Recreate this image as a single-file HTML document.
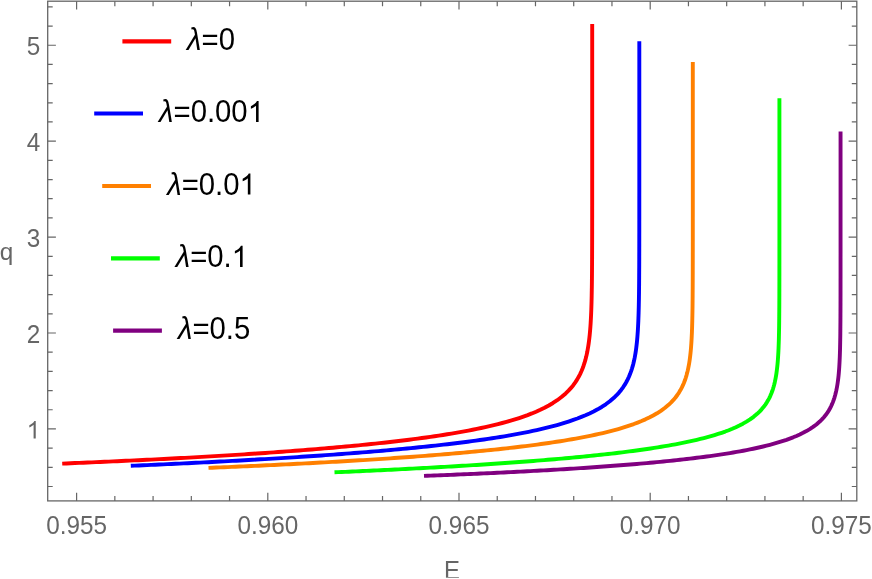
<!DOCTYPE html>
<html><head><meta charset="utf-8"><title>q vs E</title>
<style>html,body{margin:0;padding:0;background:#fff;}svg{display:block;font-family:"Liberation Sans",sans-serif;will-change:transform;}</style>
</head><body>
<svg width="872" height="579" viewBox="0 0 872 579">
<rect width="872" height="579" fill="#fff"/>
<rect x="47.7" y="1.2" width="809.0999999999999" height="499.7" fill="none" stroke="#666666" stroke-width="1.3"/>
<path d="M76.60 500.9 v-8.2 M76.60 1.2 v8.2 M114.84 500.9 v-5 M114.84 1.2 v5 M153.08 500.9 v-5 M153.08 1.2 v5 M191.32 500.9 v-5 M191.32 1.2 v5 M229.56 500.9 v-5 M229.56 1.2 v5 M267.80 500.9 v-8.2 M267.80 1.2 v8.2 M306.04 500.9 v-5 M306.04 1.2 v5 M344.28 500.9 v-5 M344.28 1.2 v5 M382.52 500.9 v-5 M382.52 1.2 v5 M420.76 500.9 v-5 M420.76 1.2 v5 M459.00 500.9 v-8.2 M459.00 1.2 v8.2 M497.24 500.9 v-5 M497.24 1.2 v5 M535.48 500.9 v-5 M535.48 1.2 v5 M573.72 500.9 v-5 M573.72 1.2 v5 M611.96 500.9 v-5 M611.96 1.2 v5 M650.20 500.9 v-8.2 M650.20 1.2 v8.2 M688.44 500.9 v-5 M688.44 1.2 v5 M726.68 500.9 v-5 M726.68 1.2 v5 M764.92 500.9 v-5 M764.92 1.2 v5 M803.16 500.9 v-5 M803.16 1.2 v5 M841.40 500.9 v-8.2 M841.40 1.2 v8.2 M47.7 486.51 h5 M856.8 486.51 h-5 M47.7 467.32 h5 M856.8 467.32 h-5 M47.7 448.14 h5 M856.8 448.14 h-5 M47.7 428.95 h8.2 M856.8 428.95 h-8.2 M47.7 409.76 h5 M856.8 409.76 h-5 M47.7 390.58 h5 M856.8 390.58 h-5 M47.7 371.39 h5 M856.8 371.39 h-5 M47.7 352.21 h5 M856.8 352.21 h-5 M47.7 333.02 h8.2 M856.8 333.02 h-8.2 M47.7 313.83 h5 M856.8 313.83 h-5 M47.7 294.65 h5 M856.8 294.65 h-5 M47.7 275.46 h5 M856.8 275.46 h-5 M47.7 256.28 h5 M856.8 256.28 h-5 M47.7 237.09 h8.2 M856.8 237.09 h-8.2 M47.7 217.90 h5 M856.8 217.90 h-5 M47.7 198.72 h5 M856.8 198.72 h-5 M47.7 179.53 h5 M856.8 179.53 h-5 M47.7 160.35 h5 M856.8 160.35 h-5 M47.7 141.16 h8.2 M856.8 141.16 h-8.2 M47.7 121.97 h5 M856.8 121.97 h-5 M47.7 102.79 h5 M856.8 102.79 h-5 M47.7 83.60 h5 M856.8 83.60 h-5 M47.7 64.42 h5 M856.8 64.42 h-5 M47.7 45.23 h8.2 M856.8 45.23 h-8.2 M47.7 26.04 h5 M856.8 26.04 h-5 M47.7 6.86 h5 M856.8 6.86 h-5" stroke="#666666" stroke-width="1.2" fill="none"/>
<text transform="translate(76.60 534.10) scale(1 1.04)" font-size="24.3" fill="#666666" text-anchor="middle">0.955</text>
<text transform="translate(267.80 534.10) scale(1 1.04)" font-size="24.3" fill="#666666" text-anchor="middle">0.960</text>
<text transform="translate(459.00 534.10) scale(1 1.04)" font-size="24.3" fill="#666666" text-anchor="middle">0.965</text>
<text transform="translate(650.20 534.10) scale(1 1.04)" font-size="24.3" fill="#666666" text-anchor="middle">0.970</text>
<text transform="translate(841.40 534.10) scale(1 1.04)" font-size="24.3" fill="#666666" text-anchor="middle">0.975</text>
<path transform="translate(26.68 438.45) scale(0.011865 -0.011865)" d="M763 0 L583 0 L583 1147 Q518 1085 412.5 1023 Q307 961 223 930 L223 1104 Q374 1175 487 1276 Q600 1377 647 1472 L763 1472 Z" fill="#666666"/>
<text transform="translate(40.20 342.52) scale(1 1.04)" font-size="24.3" fill="#666666" text-anchor="end">2</text>
<text transform="translate(40.20 246.59) scale(1 1.04)" font-size="24.3" fill="#666666" text-anchor="end">3</text>
<text transform="translate(40.20 150.66) scale(1 1.04)" font-size="24.3" fill="#666666" text-anchor="end">4</text>
<text transform="translate(40.20 54.73) scale(1 1.04)" font-size="24.3" fill="#666666" text-anchor="end">5</text>
<text transform="translate(452.00 578.70) scale(1 1.04)" font-size="23.9" fill="#666666" text-anchor="middle">E</text>
<rect x="440" y="577.7" width="26" height="2" fill="#fff"/>
<text transform="translate(6.60 260.20) scale(1 0.98)" font-size="24.3" fill="#666666" text-anchor="middle">q</text>
<line x1="122.4" y1="41.3" x2="171.2" y2="41.3" stroke="#ff0000" stroke-width="4.2"/>
<text transform="translate(187.10 49.90) scale(1 1.04)" font-size="29.3" fill="#000" text-anchor="start"><tspan font-style="italic">λ</tspan>=0</text>
<line x1="94.2" y1="113.5" x2="143.0" y2="113.5" stroke="#0000ff" stroke-width="4.2"/>
<text transform="translate(159.10 122.10) scale(1 1.04)" font-size="29.3" fill="#000" text-anchor="start"><tspan font-style="italic">λ</tspan>=0.00</text>
<path transform="translate(247.69 122.10) scale(0.014307 -0.014307)" d="M763 0 L583 0 L583 1147 Q518 1085 412.5 1023 Q307 961 223 930 L223 1104 Q374 1175 487 1276 Q600 1377 647 1472 L763 1472 Z" fill="#000"/>
<line x1="102.2" y1="186" x2="151.0" y2="186" stroke="#ff8000" stroke-width="4.2"/>
<text transform="translate(167.20 194.60) scale(1 1.04)" font-size="29.3" fill="#000" text-anchor="start"><tspan font-style="italic">λ</tspan>=0.0</text>
<path transform="translate(239.49 194.60) scale(0.014307 -0.014307)" d="M763 0 L583 0 L583 1147 Q518 1085 412.5 1023 Q307 961 223 930 L223 1104 Q374 1175 487 1276 Q600 1377 647 1472 L763 1472 Z" fill="#000"/>
<line x1="111" y1="258.3" x2="159.8" y2="258.3" stroke="#00ff00" stroke-width="4.2"/>
<text transform="translate(175.70 266.90) scale(1 1.04)" font-size="29.3" fill="#000" text-anchor="start"><tspan font-style="italic">λ</tspan>=0.</text>
<path transform="translate(231.69 266.90) scale(0.014307 -0.014307)" d="M763 0 L583 0 L583 1147 Q518 1085 412.5 1023 Q307 961 223 930 L223 1104 Q374 1175 487 1276 Q600 1377 647 1472 L763 1472 Z" fill="#000"/>
<line x1="113.1" y1="330.6" x2="161.89999999999998" y2="330.6" stroke="#800080" stroke-width="4.2"/>
<text transform="translate(178.00 339.20) scale(1 1.04)" font-size="29.3" fill="#000" text-anchor="start"><tspan font-style="italic">λ</tspan>=0.5</text>
<path d="M62.20 463.60 L66.43 463.43 L70.66 463.25 L74.89 463.07 L79.12 462.89 L83.36 462.71 L87.59 462.53 L91.82 462.35 L96.05 462.16 L100.28 461.98 L104.51 461.79 L108.74 461.60 L112.97 461.41 L117.20 461.21 L121.44 461.02 L125.67 460.82 L129.90 460.62 L134.13 460.42 L138.36 460.21 L142.59 460.01 L146.82 459.80 L151.05 459.59 L155.28 459.38 L159.52 459.16 L163.75 458.95 L167.98 458.73 L172.21 458.51 L176.44 458.28 L180.67 458.06 L184.90 457.83 L189.13 457.60 L193.36 457.36 L197.59 457.13 L201.83 456.89 L206.06 456.65 L210.29 456.40 L214.52 456.16 L218.75 455.90 L222.98 455.65 L227.21 455.39 L231.44 455.13 L235.67 454.87 L239.91 454.61 L244.14 454.34 L248.37 454.06 L252.60 453.78 L256.83 453.50 L261.06 453.22 L265.29 452.93 L269.52 452.64 L273.75 452.34 L277.99 452.04 L282.22 451.74 L286.45 451.43 L290.68 451.11 L294.91 450.79 L299.14 450.47 L303.37 450.14 L307.60 449.81 L311.83 449.47 L316.07 449.12 L320.30 448.77 L324.53 448.42 L328.76 448.06 L332.99 447.69 L337.22 447.31 L341.45 446.93 L345.68 446.54 L349.91 446.15 L354.15 445.75 L358.38 445.34 L362.61 444.92 L366.84 444.49 L371.07 444.06 L375.30 443.62 L379.53 443.16 L383.76 442.70 L387.99 442.23 L392.23 441.75 L396.46 441.25 L400.69 440.75 L404.92 440.23 L409.15 439.70 L413.38 439.16 L417.61 438.60 L421.84 438.04 L426.07 437.45 L430.31 436.85 L434.54 436.23 L438.77 435.60 L443.00 434.95 L447.23 434.27 L451.46 433.58 L455.69 432.86 L459.92 432.12 L464.15 431.36 L468.38 430.57 L472.62 429.75 L476.85 428.90 L481.08 428.02 L485.31 427.10 L489.54 426.14 L493.77 425.14 L498.00 424.10 L502.23 423.00 L506.46 421.86 L510.70 420.65 L514.93 419.37 L519.16 418.02 L523.39 416.59 L527.62 415.07 L531.85 413.44 L536.08 411.68 L540.31 409.79 L544.54 407.73 L548.78 405.47 L553.01 402.98 L557.24 400.20 L561.47 397.05 L565.70 393.42 L568.51 390.67 L571.03 387.91 L573.28 385.15 L575.28 382.38 L577.08 379.61 L578.69 376.84 L580.12 374.06 L581.40 371.29 L582.55 368.51 L583.57 365.72 L584.49 362.94 L585.31 360.15 L586.04 357.36 L586.69 354.57 L587.28 351.77 L587.80 348.98 L588.27 346.18 L588.68 343.38 L589.06 340.59 L589.39 337.79 L589.69 334.99 L589.96 332.18 L590.19 329.38 L590.41 326.58 L590.60 323.77 L590.77 320.97 L590.92 318.16 L591.06 315.36 L591.18 312.55 L591.29 309.75 L591.38 306.94 L591.47 304.13 L591.55 301.32 L591.62 298.52 L591.68 295.71 L591.73 292.90 L591.78 290.09 L591.83 287.28 L591.87 284.47 L591.90 281.66 L591.93 278.85 L591.96 276.04 L591.99 273.23 L592.01 270.42 L592.03 267.61 L592.05 264.80 L592.06 261.99 L592.08 259.18 L592.09 256.37 L592.10 253.56 L592.11 250.75 L592.12 247.94 L592.13 245.13 L592.14 242.32 L592.14 239.51 L592.15 236.70 L592.16 233.89 L592.16 231.08 L592.16 228.27 L592.17 225.46 L592.17 222.65 L592.17 219.84 L592.18 217.02 L592.18 214.21 L592.18 211.40 L592.18 208.59 L592.19 205.78 L592.19 202.97 L592.19 200.16 L592.19 197.35 L592.19 194.54 L592.19 191.73 L592.19 188.92 L592.19 186.10 L592.19 183.29 L592.19 180.48 L592.20 177.67 L592.20 174.86 L592.20 172.05 L592.20 169.24 L592.20 166.43 L592.20 163.62 L592.20 160.81 L592.20 157.99 L592.20 155.18 L592.20 152.37 L592.20 149.56 L592.20 146.75 L592.20 143.94 L592.20 141.13 L592.20 138.32 L592.20 135.51 L592.20 132.70 L592.20 129.88 L592.20 127.07 L592.20 124.26 L592.20 121.45 L592.20 118.64 L592.20 115.83 L592.20 113.02 L592.20 110.21 L592.20 107.40 L592.20 104.58 L592.20 101.77 L592.20 98.96 L592.20 96.15 L592.20 93.34 L592.20 90.53 L592.20 87.72 L592.20 84.91 L592.20 82.10 L592.20 79.29 L592.20 76.47 L592.20 73.66 L592.20 70.85 L592.20 68.04 L592.20 65.23 L592.20 62.42 L592.20 59.61 L592.20 56.80 L592.20 53.99 L592.20 51.18 L592.20 48.36 L592.20 45.55 L592.20 42.74 L592.20 39.93 L592.20 37.12 L592.20 34.31 L592.20 31.50 L592.20 28.69 L592.20 25.88 L592.20 24.00" stroke="#ff0000" stroke-width="3.9" fill="none" stroke-linejoin="round"/>
<path d="M130.80 465.80 L134.86 465.62 L138.92 465.45 L142.98 465.27 L147.04 465.09 L151.10 464.91 L155.16 464.72 L159.22 464.54 L163.28 464.35 L167.34 464.16 L171.40 463.97 L175.45 463.78 L179.51 463.59 L183.57 463.40 L187.63 463.20 L191.69 463.00 L195.75 462.80 L199.81 462.60 L203.87 462.39 L207.93 462.19 L211.99 461.98 L216.05 461.77 L220.11 461.56 L224.17 461.34 L228.23 461.13 L232.29 460.91 L236.35 460.69 L240.41 460.47 L244.47 460.24 L248.53 460.01 L252.59 459.78 L256.65 459.55 L260.71 459.32 L264.76 459.08 L268.82 458.84 L272.88 458.59 L276.94 458.35 L281.00 458.10 L285.06 457.85 L289.12 457.59 L293.18 457.34 L297.24 457.08 L301.30 456.81 L305.36 456.55 L309.42 456.28 L313.48 456.00 L317.54 455.72 L321.60 455.44 L325.66 455.16 L329.72 454.87 L333.78 454.58 L337.84 454.28 L341.90 453.98 L345.96 453.68 L350.01 453.37 L354.07 453.05 L358.13 452.74 L362.19 452.41 L366.25 452.09 L370.31 451.75 L374.37 451.41 L378.43 451.07 L382.49 450.72 L386.55 450.37 L390.61 450.01 L394.67 449.64 L398.73 449.27 L402.79 448.89 L406.85 448.50 L410.91 448.11 L414.97 447.71 L419.03 447.30 L423.09 446.89 L427.15 446.46 L431.21 446.03 L435.27 445.59 L439.32 445.14 L443.38 444.68 L447.44 444.21 L451.50 443.73 L455.56 443.24 L459.62 442.74 L463.68 442.23 L467.74 441.70 L471.80 441.16 L475.86 440.61 L479.92 440.04 L483.98 439.46 L488.04 438.86 L492.10 438.25 L496.16 437.62 L500.22 436.97 L504.28 436.30 L508.34 435.61 L512.40 434.90 L516.46 434.16 L520.52 433.40 L524.57 432.61 L528.63 431.79 L532.69 430.94 L536.75 430.05 L540.81 429.13 L544.87 428.17 L548.93 427.17 L552.99 426.12 L557.05 425.02 L561.11 423.86 L565.17 422.63 L569.23 421.34 L573.29 419.97 L577.35 418.51 L581.41 416.94 L585.47 415.27 L589.53 413.45 L593.59 411.48 L597.65 409.33 L601.71 406.95 L605.77 404.29 L609.82 401.28 L613.88 397.82 L616.58 395.20 L619.00 392.57 L621.15 389.94 L623.08 387.30 L624.80 384.66 L626.34 382.02 L627.72 379.38 L628.95 376.73 L630.05 374.08 L631.03 371.43 L631.91 368.78 L632.70 366.13 L633.40 363.47 L634.03 360.81 L634.59 358.16 L635.09 355.50 L635.54 352.83 L635.94 350.17 L636.30 347.51 L636.62 344.85 L636.90 342.18 L637.16 339.52 L637.39 336.85 L637.59 334.18 L637.77 331.51 L637.94 328.85 L638.08 326.18 L638.21 323.51 L638.33 320.84 L638.43 318.17 L638.53 315.50 L638.61 312.83 L638.68 310.16 L638.75 307.49 L638.81 304.82 L638.86 302.14 L638.91 299.47 L638.95 296.80 L638.99 294.13 L639.02 291.46 L639.05 288.78 L639.08 286.11 L639.11 283.44 L639.13 280.77 L639.15 278.09 L639.16 275.42 L639.18 272.75 L639.19 270.07 L639.21 267.40 L639.22 264.73 L639.23 262.05 L639.24 259.38 L639.24 256.71 L639.25 254.03 L639.26 251.36 L639.26 248.69 L639.27 246.01 L639.27 243.34 L639.28 240.67 L639.28 237.99 L639.28 235.32 L639.29 232.64 L639.29 229.97 L639.29 227.30 L639.29 224.62 L639.29 221.95 L639.30 219.28 L639.30 216.60 L639.30 213.93 L639.30 211.25 L639.30 208.58 L639.30 205.91 L639.30 203.23 L639.30 200.56 L639.30 197.89 L639.30 195.21 L639.31 192.54 L639.31 189.86 L639.31 187.19 L639.31 184.52 L639.31 181.84 L639.31 179.17 L639.31 176.50 L639.31 173.82 L639.31 171.15 L639.31 168.47 L639.31 165.80 L639.31 163.13 L639.31 160.45 L639.31 157.78 L639.31 155.10 L639.31 152.43 L639.31 149.76 L639.31 147.08 L639.31 144.41 L639.31 141.74 L639.31 139.06 L639.31 136.39 L639.31 133.71 L639.31 131.04 L639.31 128.37 L639.31 125.69 L639.31 123.02 L639.31 120.34 L639.31 117.67 L639.31 115.00 L639.31 112.32 L639.31 109.65 L639.31 106.98 L639.31 104.30 L639.31 101.63 L639.31 98.95 L639.31 96.28 L639.31 93.61 L639.31 90.93 L639.31 88.26 L639.31 85.58 L639.31 82.91 L639.31 80.24 L639.31 77.56 L639.31 74.89 L639.31 72.22 L639.31 69.54 L639.31 66.87 L639.31 64.19 L639.31 61.52 L639.31 58.85 L639.31 56.17 L639.31 53.50 L639.31 50.82 L639.31 48.15 L639.31 45.48 L639.31 42.80 L639.31 41.30" stroke="#0000ff" stroke-width="3.9" fill="none" stroke-linejoin="round"/>
<path d="M208.50 467.90 L212.37 467.74 L216.23 467.57 L220.10 467.41 L223.97 467.24 L227.83 467.08 L231.70 466.91 L235.56 466.74 L239.43 466.56 L243.30 466.39 L247.16 466.22 L251.03 466.04 L254.90 465.86 L258.76 465.68 L262.63 465.50 L266.50 465.32 L270.36 465.13 L274.23 464.94 L278.09 464.76 L281.96 464.57 L285.83 464.37 L289.69 464.18 L293.56 463.98 L297.43 463.79 L301.29 463.59 L305.16 463.38 L309.02 463.18 L312.89 462.97 L316.76 462.77 L320.62 462.56 L324.49 462.34 L328.36 462.13 L332.22 461.91 L336.09 461.69 L339.96 461.47 L343.82 461.24 L347.69 461.02 L351.55 460.79 L355.42 460.55 L359.29 460.32 L363.15 460.08 L367.02 459.84 L370.89 459.60 L374.75 459.35 L378.62 459.10 L382.49 458.84 L386.35 458.59 L390.22 458.33 L394.08 458.06 L397.95 457.80 L401.82 457.53 L405.68 457.25 L409.55 456.97 L413.42 456.69 L417.28 456.41 L421.15 456.12 L425.02 455.82 L428.88 455.52 L432.75 455.22 L436.61 454.91 L440.48 454.60 L444.35 454.28 L448.21 453.96 L452.08 453.63 L455.95 453.29 L459.81 452.95 L463.68 452.61 L467.54 452.26 L471.41 451.90 L475.28 451.53 L479.14 451.16 L483.01 450.79 L486.88 450.40 L490.74 450.01 L494.61 449.61 L498.48 449.20 L502.34 448.78 L506.21 448.35 L510.07 447.92 L513.94 447.47 L517.81 447.02 L521.67 446.55 L525.54 446.08 L529.41 445.59 L533.27 445.09 L537.14 444.58 L541.01 444.05 L544.87 443.51 L548.74 442.96 L552.60 442.39 L556.47 441.80 L560.34 441.20 L564.20 440.58 L568.07 439.94 L571.94 439.27 L575.80 438.59 L579.67 437.88 L583.54 437.15 L587.40 436.39 L591.27 435.60 L595.13 434.78 L599.00 433.92 L602.87 433.03 L606.73 432.10 L610.60 431.12 L614.47 430.10 L618.33 429.02 L622.20 427.88 L626.06 426.68 L629.93 425.40 L633.80 424.05 L637.66 422.59 L641.53 421.03 L645.40 419.35 L649.26 417.52 L653.13 415.51 L657.00 413.30 L660.86 410.83 L664.73 408.03 L668.59 404.81 L671.17 402.37 L673.46 399.93 L675.52 397.48 L677.35 395.03 L678.99 392.57 L680.46 390.12 L681.77 387.66 L682.94 385.20 L683.99 382.73 L684.93 380.27 L685.76 377.80 L686.51 375.33 L687.18 372.86 L687.78 370.39 L688.31 367.92 L688.79 365.44 L689.22 362.97 L689.60 360.49 L689.94 358.01 L690.24 355.53 L690.52 353.05 L690.76 350.57 L690.98 348.09 L691.17 345.61 L691.35 343.13 L691.50 340.65 L691.64 338.16 L691.76 335.68 L691.88 333.20 L691.97 330.71 L692.06 328.23 L692.14 325.74 L692.21 323.26 L692.28 320.77 L692.33 318.29 L692.38 315.80 L692.43 313.32 L692.47 310.83 L692.51 308.35 L692.54 305.86 L692.57 303.37 L692.59 300.89 L692.62 298.40 L692.64 295.91 L692.65 293.43 L692.67 290.94 L692.69 288.45 L692.70 285.96 L692.71 283.48 L692.72 280.99 L692.73 278.50 L692.74 276.02 L692.75 273.53 L692.75 271.04 L692.76 268.55 L692.76 266.07 L692.77 263.58 L692.77 261.09 L692.78 258.60 L692.78 256.12 L692.78 253.63 L692.79 251.14 L692.79 248.65 L692.79 246.17 L692.79 243.68 L692.80 241.19 L692.80 238.70 L692.80 236.22 L692.80 233.73 L692.80 231.24 L692.80 228.75 L692.80 226.26 L692.80 223.78 L692.80 221.29 L692.80 218.80 L692.81 216.31 L692.81 213.83 L692.81 211.34 L692.81 208.85 L692.81 206.36 L692.81 203.88 L692.81 201.39 L692.81 198.90 L692.81 196.41 L692.81 193.92 L692.81 191.44 L692.81 188.95 L692.81 186.46 L692.81 183.97 L692.81 181.49 L692.81 179.00 L692.81 176.51 L692.81 174.02 L692.81 171.53 L692.81 169.05 L692.81 166.56 L692.81 164.07 L692.81 161.58 L692.81 159.10 L692.81 156.61 L692.81 154.12 L692.81 151.63 L692.81 149.14 L692.81 146.66 L692.81 144.17 L692.81 141.68 L692.81 139.19 L692.81 136.71 L692.81 134.22 L692.81 131.73 L692.81 129.24 L692.81 126.75 L692.81 124.27 L692.81 121.78 L692.81 119.29 L692.81 116.80 L692.81 114.32 L692.81 111.83 L692.81 109.34 L692.81 106.85 L692.81 104.36 L692.81 101.88 L692.81 99.39 L692.81 96.90 L692.81 94.41 L692.81 91.93 L692.81 89.44 L692.81 86.95 L692.81 84.46 L692.81 81.98 L692.81 79.49 L692.81 77.00 L692.81 74.51 L692.81 72.02 L692.81 69.54 L692.81 67.05 L692.81 64.56 L692.81 62.07 L692.81 62.00" stroke="#ff8000" stroke-width="3.9" fill="none" stroke-linejoin="round"/>
<path d="M334.50 472.30 L338.05 472.15 L341.60 471.99 L345.16 471.84 L348.71 471.68 L352.26 471.52 L355.81 471.36 L359.36 471.20 L362.91 471.04 L366.47 470.87 L370.02 470.71 L373.57 470.54 L377.12 470.37 L380.67 470.20 L384.23 470.03 L387.78 469.86 L391.33 469.68 L394.88 469.51 L398.43 469.33 L401.98 469.15 L405.54 468.97 L409.09 468.79 L412.64 468.60 L416.19 468.42 L419.74 468.23 L423.30 468.04 L426.85 467.85 L430.40 467.65 L433.95 467.46 L437.50 467.26 L441.05 467.06 L444.61 466.86 L448.16 466.65 L451.71 466.45 L455.26 466.24 L458.81 466.03 L462.36 465.82 L465.92 465.60 L469.47 465.38 L473.02 465.16 L476.57 464.94 L480.12 464.71 L483.68 464.48 L487.23 464.25 L490.78 464.02 L494.33 463.78 L497.88 463.54 L501.43 463.30 L504.99 463.05 L508.54 462.80 L512.09 462.55 L515.64 462.29 L519.19 462.03 L522.75 461.77 L526.30 461.50 L529.85 461.23 L533.40 460.95 L536.95 460.67 L540.50 460.39 L544.06 460.10 L547.61 459.81 L551.16 459.52 L554.71 459.21 L558.26 458.91 L561.82 458.60 L565.37 458.28 L568.92 457.96 L572.47 457.63 L576.02 457.30 L579.57 456.96 L583.13 456.61 L586.68 456.26 L590.23 455.90 L593.78 455.54 L597.33 455.17 L600.89 454.79 L604.44 454.40 L607.99 454.00 L611.54 453.60 L615.09 453.19 L618.64 452.76 L622.20 452.33 L625.75 451.89 L629.30 451.44 L632.85 450.97 L636.40 450.50 L639.96 450.01 L643.51 449.51 L647.06 449.00 L650.61 448.47 L654.16 447.93 L657.71 447.37 L661.27 446.79 L664.82 446.20 L668.37 445.59 L671.92 444.95 L675.47 444.30 L679.02 443.62 L682.58 442.92 L686.13 442.19 L689.68 441.43 L693.23 440.64 L696.78 439.82 L700.34 438.96 L703.89 438.06 L707.44 437.11 L710.99 436.12 L714.54 435.07 L718.09 433.96 L721.65 432.79 L725.20 431.54 L728.75 430.20 L732.30 428.76 L735.85 427.21 L739.41 425.52 L742.96 423.68 L746.51 421.64 L750.06 419.37 L753.61 416.80 L757.16 413.84 L759.53 411.59 L761.64 409.34 L763.52 407.09 L765.21 404.84 L766.72 402.59 L768.06 400.33 L769.27 398.07 L770.35 395.81 L771.31 393.55 L772.17 391.28 L772.94 389.02 L773.62 386.75 L774.24 384.48 L774.79 382.21 L775.28 379.94 L775.72 377.67 L776.11 375.39 L776.46 373.12 L776.77 370.84 L777.05 368.57 L777.30 366.29 L777.53 364.01 L777.73 361.74 L777.91 359.46 L778.06 357.18 L778.21 354.90 L778.34 352.62 L778.45 350.34 L778.55 348.06 L778.64 345.78 L778.72 343.50 L778.80 341.22 L778.86 338.94 L778.92 336.65 L778.97 334.37 L779.02 332.09 L779.06 329.81 L779.10 327.53 L779.13 325.24 L779.16 322.96 L779.19 320.68 L779.21 318.39 L779.23 316.11 L779.25 313.83 L779.27 311.55 L779.28 309.26 L779.30 306.98 L779.31 304.70 L779.32 302.41 L779.33 300.13 L779.34 297.85 L779.35 295.56 L779.35 293.28 L779.36 290.99 L779.36 288.71 L779.37 286.43 L779.37 284.14 L779.38 281.86 L779.38 279.58 L779.38 277.29 L779.39 275.01 L779.39 272.72 L779.39 270.44 L779.39 268.16 L779.39 265.87 L779.40 263.59 L779.40 261.31 L779.40 259.02 L779.40 256.74 L779.40 254.45 L779.40 252.17 L779.40 249.89 L779.40 247.60 L779.40 245.32 L779.41 243.03 L779.41 240.75 L779.41 238.47 L779.41 236.18 L779.41 233.90 L779.41 231.61 L779.41 229.33 L779.41 227.05 L779.41 224.76 L779.41 222.48 L779.41 220.19 L779.41 217.91 L779.41 215.63 L779.41 213.34 L779.41 211.06 L779.41 208.77 L779.41 206.49 L779.41 204.21 L779.41 201.92 L779.41 199.64 L779.41 197.36 L779.41 195.07 L779.41 192.79 L779.41 190.50 L779.41 188.22 L779.41 185.94 L779.41 183.65 L779.41 181.37 L779.41 179.08 L779.41 176.80 L779.41 174.52 L779.41 172.23 L779.41 169.95 L779.41 167.66 L779.41 165.38 L779.41 163.10 L779.41 160.81 L779.41 158.53 L779.41 156.24 L779.41 153.96 L779.41 151.68 L779.41 149.39 L779.41 147.11 L779.41 144.82 L779.41 142.54 L779.41 140.26 L779.41 137.97 L779.41 135.69 L779.41 133.40 L779.41 131.12 L779.41 128.84 L779.41 126.55 L779.41 124.27 L779.41 121.98 L779.41 119.70 L779.41 117.42 L779.41 115.13 L779.41 112.85 L779.41 110.56 L779.41 108.28 L779.41 106.00 L779.41 103.71 L779.41 101.43 L779.41 99.14 L779.41 98.20" stroke="#00ff00" stroke-width="3.9" fill="none" stroke-linejoin="round"/>
<path d="M424.00 475.90 L427.33 475.77 L430.65 475.64 L433.98 475.51 L437.30 475.38 L440.63 475.25 L443.95 475.11 L447.28 474.98 L450.60 474.84 L453.93 474.70 L457.25 474.56 L460.58 474.42 L463.90 474.28 L467.23 474.14 L470.56 473.99 L473.88 473.85 L477.21 473.70 L480.53 473.55 L483.86 473.40 L487.18 473.24 L490.51 473.09 L493.83 472.93 L497.16 472.78 L500.48 472.62 L503.81 472.45 L507.13 472.29 L510.46 472.13 L513.79 471.96 L517.11 471.79 L520.44 471.62 L523.76 471.45 L527.09 471.27 L530.41 471.09 L533.74 470.91 L537.06 470.73 L540.39 470.55 L543.71 470.36 L547.04 470.18 L550.37 469.98 L553.69 469.79 L557.02 469.60 L560.34 469.40 L563.67 469.20 L566.99 468.99 L570.32 468.79 L573.64 468.58 L576.97 468.36 L580.29 468.15 L583.62 467.93 L586.94 467.71 L590.27 467.48 L593.60 467.26 L596.92 467.03 L600.25 466.79 L603.57 466.55 L606.90 466.31 L610.22 466.06 L613.55 465.81 L616.87 465.56 L620.20 465.30 L623.52 465.04 L626.85 464.77 L630.17 464.50 L633.50 464.22 L636.83 463.94 L640.15 463.66 L643.48 463.36 L646.80 463.07 L650.13 462.76 L653.45 462.46 L656.78 462.14 L660.10 461.82 L663.43 461.49 L666.75 461.16 L670.08 460.82 L673.40 460.47 L676.73 460.11 L680.06 459.75 L683.38 459.38 L686.71 459.00 L690.03 458.61 L693.36 458.21 L696.68 457.80 L700.01 457.38 L703.33 456.96 L706.66 456.51 L709.98 456.06 L713.31 455.60 L716.64 455.12 L719.96 454.63 L723.29 454.12 L726.61 453.60 L729.94 453.06 L733.26 452.50 L736.59 451.93 L739.91 451.34 L743.24 450.72 L746.56 450.08 L749.89 449.42 L753.21 448.73 L756.54 448.01 L759.87 447.27 L763.19 446.49 L766.52 445.67 L769.84 444.82 L773.17 443.92 L776.49 442.97 L779.82 441.98 L783.14 440.92 L786.47 439.80 L789.79 438.60 L793.12 437.32 L796.44 435.95 L799.77 434.46 L803.10 432.84 L806.42 431.07 L809.75 429.11 L813.07 426.92 L816.40 424.44 L819.72 421.58 L821.93 419.41 L823.91 417.24 L825.68 415.06 L827.26 412.88 L828.67 410.69 L829.93 408.50 L831.06 406.31 L832.06 404.12 L832.96 401.92 L833.77 399.73 L834.49 397.53 L835.13 395.33 L835.71 393.12 L836.22 390.92 L836.68 388.71 L837.09 386.50 L837.46 384.29 L837.79 382.08 L838.08 379.87 L838.34 377.66 L838.58 375.45 L838.79 373.23 L838.97 371.02 L839.14 368.80 L839.29 366.59 L839.42 364.37 L839.54 362.15 L839.65 359.94 L839.75 357.72 L839.83 355.50 L839.91 353.28 L839.98 351.06 L840.04 348.85 L840.09 346.63 L840.14 344.41 L840.18 342.19 L840.22 339.97 L840.26 337.75 L840.29 335.53 L840.32 333.31 L840.34 331.09 L840.36 328.86 L840.38 326.64 L840.40 324.42 L840.42 322.20 L840.43 319.98 L840.44 317.76 L840.45 315.54 L840.46 313.32 L840.47 311.10 L840.48 308.88 L840.49 306.65 L840.50 304.43 L840.50 302.21 L840.51 299.99 L840.51 297.77 L840.52 295.55 L840.52 293.32 L840.52 291.10 L840.53 288.88 L840.53 286.66 L840.53 284.44 L840.53 282.22 L840.53 279.99 L840.54 277.77 L840.54 275.55 L840.54 273.33 L840.54 271.11 L840.54 268.89 L840.54 266.66 L840.54 264.44 L840.54 262.22 L840.54 260.00 L840.54 257.78 L840.55 255.56 L840.55 253.33 L840.55 251.11 L840.55 248.89 L840.55 246.67 L840.55 244.45 L840.55 242.22 L840.55 240.00 L840.55 237.78 L840.55 235.56 L840.55 233.34 L840.55 231.12 L840.55 228.89 L840.55 226.67 L840.55 224.45 L840.55 222.23 L840.55 220.01 L840.55 217.78 L840.55 215.56 L840.55 213.34 L840.55 211.12 L840.55 208.90 L840.55 206.68 L840.55 204.45 L840.55 202.23 L840.55 200.01 L840.55 197.79 L840.55 195.57 L840.55 193.34 L840.55 191.12 L840.55 188.90 L840.55 186.68 L840.55 184.46 L840.55 182.23 L840.55 180.01 L840.55 177.79 L840.55 175.57 L840.55 173.35 L840.55 171.13 L840.55 168.90 L840.55 166.68 L840.55 164.46 L840.55 162.24 L840.55 160.02 L840.55 157.79 L840.55 155.57 L840.55 153.35 L840.55 151.13 L840.55 148.91 L840.55 146.69 L840.55 144.46 L840.55 142.24 L840.55 140.02 L840.55 137.80 L840.55 135.58 L840.55 133.35 L840.55 131.50" stroke="#800080" stroke-width="3.9" fill="none" stroke-linejoin="round"/>
</svg>
</body></html>
